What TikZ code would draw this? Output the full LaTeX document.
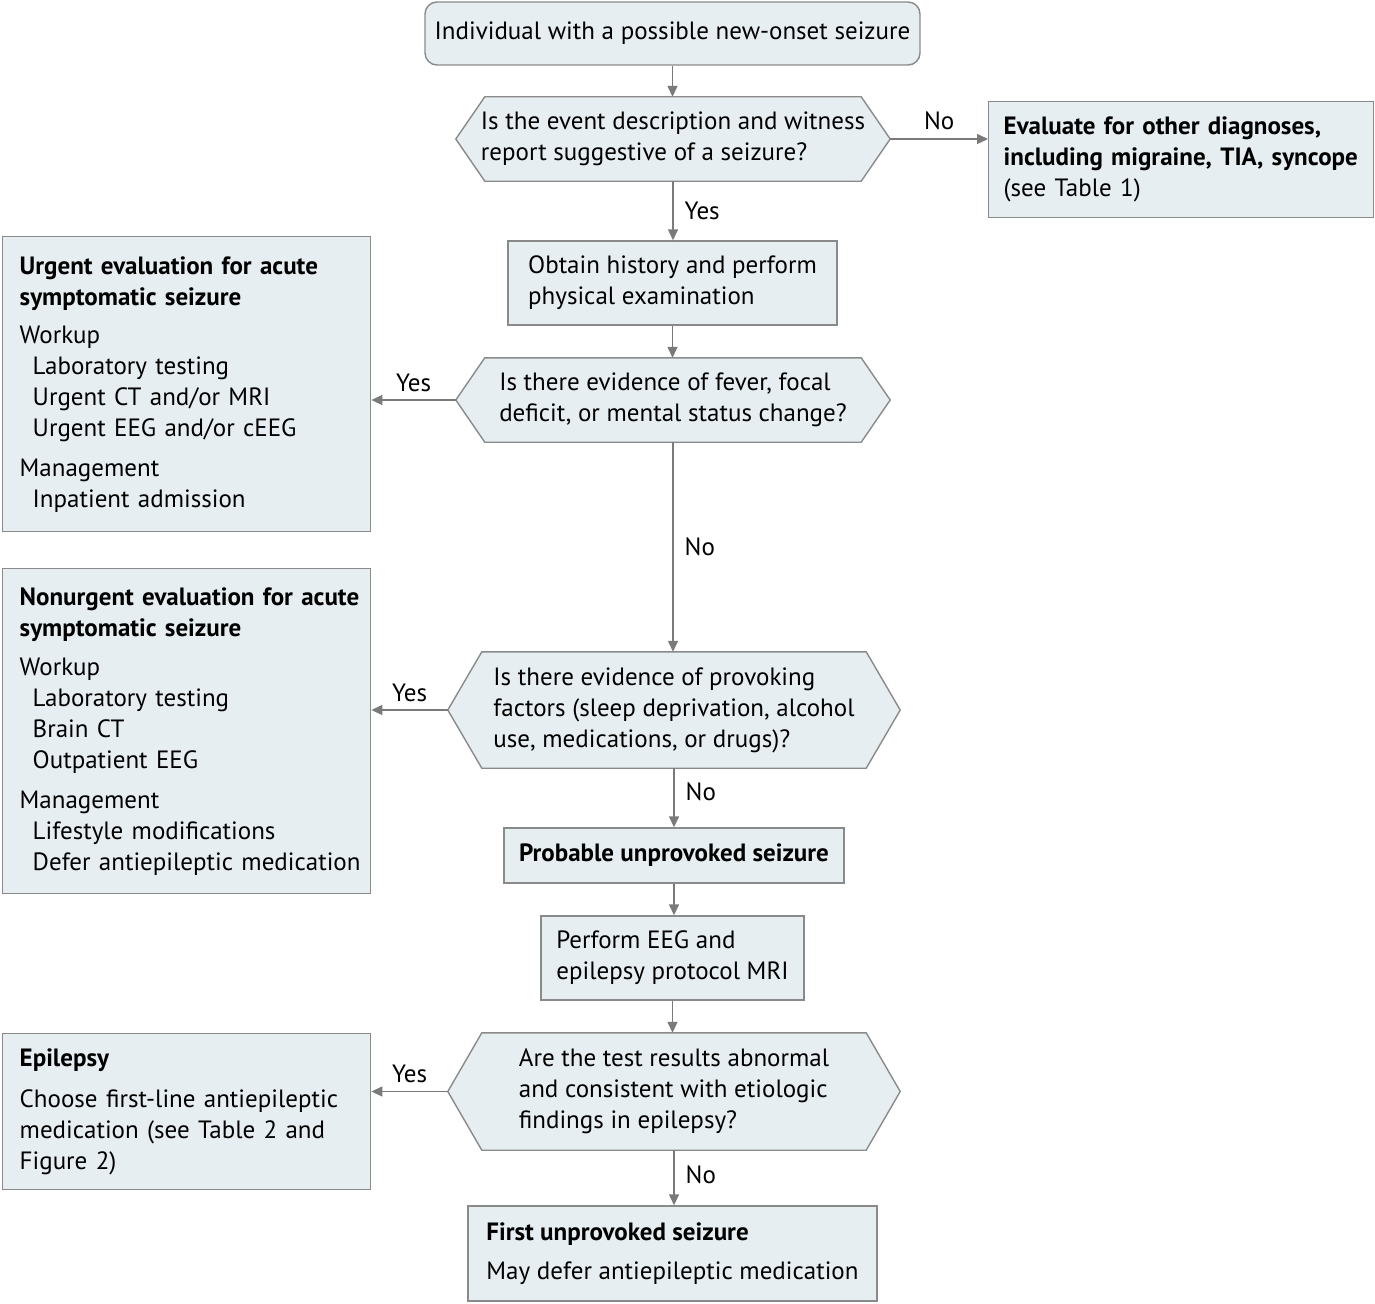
\documentclass[tikz,border=0pt]{standalone}
\usepackage{fontspec}
\setmainfont{PT Sans}
\usetikzlibrary{arrows.meta,calc}
\definecolor{boxfill}{HTML}{E7EEF2}
\definecolor{edgegray}{HTML}{8A8A8A}
\definecolor{arrgray}{HTML}{7A7A7A}
\pgfdeclarelayer{background}
\pgfsetlayers{background,main}
\newcommand\hexdraw[2]{%
  \begin{pgfonlayer}{background}
  \filldraw[hexshape] (#1.west) -- ([xshift=#2]#1.north west) -- ([xshift=-#2]#1.north east) -- (#1.east) -- ([xshift=-#2]#1.south east) -- ([xshift=#2]#1.south west) -- cycle;
  \end{pgfonlayer}}
\begin{document}
\begin{tikzpicture}[x=1pt,y=-1pt,
  every node/.style={font=\fontsize{25}{31}\selectfont},
  base/.style={inner sep=0pt, align=left},
  boxed/.style={base, draw=edgegray, fill=boxfill, line width=1.4pt},
  sidebox/.style={boxed, anchor=north west, inner xsep=17pt, text width=334pt},
  hexshape/.style={draw=edgegray, fill=boxfill, line width=1.4pt},
  conn/.style={draw=arrgray, line width=1.4pt, -{Triangle[length=11pt,width=10pt]}},
  lab/.style={inner sep=0pt}
]
\useasboundingbox (0,0) rectangle (1375,1303);

% start
\node[boxed, rounded corners=12pt, minimum width=495pt, minimum height=63pt] (start) at (672.5,33.5) {Individual with a possible new-onset seizure};

% decision 1
\node[base, minimum width=434pt, minimum height=84pt] (d1) at (673,139) {Is the event description and witness\\report suggestive of a seizure?};
\hexdraw{d1}{29pt}

% other diagnoses
\node[boxed, anchor=north west, inner xsep=15pt, text width=355pt, minimum height=116pt] (other) at (988,101) {\mbox{\textbf{Evaluate for other diagnoses,}}\\\mbox{\textbf{including migraine, TIA, syncope}}\\(see Table 1)};

% history
\node[boxed, minimum width=329pt, minimum height=84pt] (hist) at (672.5,283) {Obtain history and perform\\physical examination};

% decision 2
\node[base, minimum width=434pt, minimum height=84pt] (d2) at (673,400) {Is there evidence of fever, focal\\deficit, or mental status change?};
\hexdraw{d2}{29pt}

% urgent
\node[sidebox, minimum height=295pt] (urgent) at (2,236) {\mbox{\textbf{Urgent evaluation for acute}}\\\textbf{symptomatic seizure}\\[7pt]Workup\\\hspace*{13pt}Laboratory testing\\\hspace*{13pt}Urgent CT and/or MRI\\\hspace*{13pt}\mbox{Urgent EEG and/or cEEG}\\[9pt]Management\\\hspace*{13pt}Inpatient admission};

% decision 3
\node[base, minimum width=452pt, minimum height=116pt] (d3) at (674,710) {Is there evidence of provoking\\factors (sleep deprivation, alcohol\\use, medications, or drugs)?};
\hexdraw{d3}{34pt}

% nonurgent
\node[sidebox, minimum height=325pt] (nonurg) at (2,568) {\mbox{\textbf{Nonurgent evaluation for acute}}\\\textbf{symptomatic seizure}\\[8pt]Workup\\\hspace*{13pt}Laboratory testing\\\hspace*{13pt}Brain CT\\\hspace*{13pt}Outpatient EEG\\[9pt]Management\\\hspace*{13pt}Lifestyle modifications\\\hspace*{13pt}\mbox{Defer antiepileptic medication}};

% probable
\node[boxed, minimum width=340pt, minimum height=55pt] (prob) at (674,855.5) {\textbf{Probable unprovoked seizure}};

% eeg
\node[boxed, minimum width=263pt, minimum height=84pt] (eeg) at (672.5,958) {Perform EEG and\\epilepsy protocol MRI};

% decision 4
\node[base, minimum width=452pt, minimum height=117pt] (d4) at (674,1091.5) {Are the test results abnormal\\and consistent with etiologic\\findings in epilepsy?};
\hexdraw{d4}{34pt}

% epilepsy
\node[sidebox, minimum height=156pt] (epi) at (2,1033) {\textbf{Epilepsy}\\[10pt]\mbox{Choose first-line antiepileptic}\\medication (see Table 2 and\\Figure 2)};

% first unprovoked
\node[boxed, minimum width=409pt, minimum height=95pt] (first) at (672.5,1253.5) {\textbf{First unprovoked seizure}\\[8pt]May defer antiepileptic medication};

% connectors
\draw[conn] (start.south) -- (start.south |- d1.north);
\draw[conn] (d1.east) -- node[lab, above=8pt] {No} (d1.east -| other.west);
\draw[conn] (d1.south) -- node[lab, right=11pt] {Yes} (d1.south |- hist.north);
\draw[conn] (hist.south) -- (hist.south |- d2.north);
\draw[conn] (d2.west) -- node[lab, above=8pt] {Yes} (d2.west -| urgent.east);
\draw[conn] (d2.south) -- node[lab, right=11pt] {No} (d2.south |- d3.north);
\draw[conn] (d3.west) -- node[lab, above=8pt] {Yes} (d3.west -| nonurg.east);
\draw[conn] (d3.south) -- node[lab, right=11pt, pos=0.4] {No} (d3.south |- prob.north);
\draw[conn] (prob.south) -- (prob.south |- eeg.north);
\draw[conn] (eeg.south) -- (eeg.south |- d4.north);
\draw[conn] (d4.west) -- node[lab, above=8pt] {Yes} (d4.west -| epi.east);
\draw[conn] (d4.south) -- node[lab, right=11pt, pos=0.45] {No} (d4.south |- first.north);
\end{tikzpicture}
\end{document}
